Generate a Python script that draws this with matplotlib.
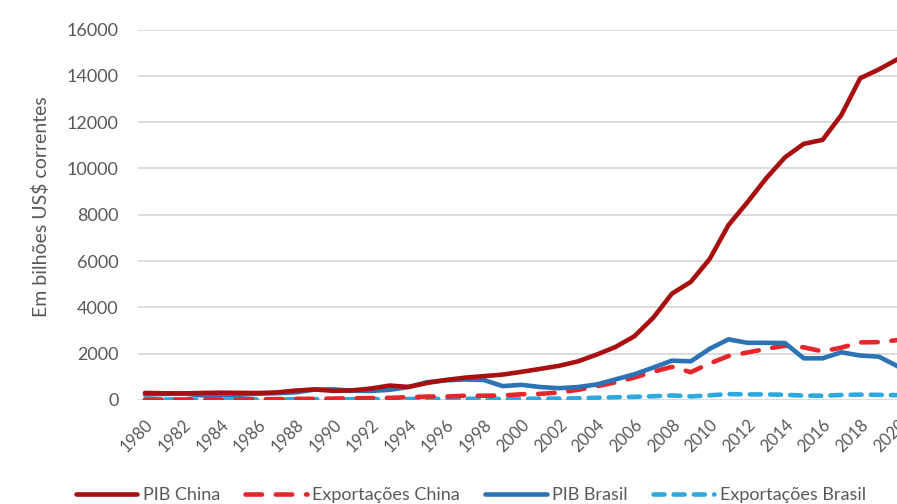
import matplotlib
matplotlib.use("Agg")
import matplotlib.pyplot as plt

plt.rcParams['font.family'] = ['Lato', 'DejaVu Sans']

years = list(range(1980, 2021))

# Billions of current US$
pib_china = [305, 290, 284, 304, 315, 309, 301, 327, 408, 456,
             395, 416, 495, 623, 566, 737, 867, 965, 1032, 1097,
             1215, 1344, 1477, 1667, 1961, 2291, 2752, 3550, 4594, 5102,
             6087, 7552, 8532, 9570, 10476, 11062, 11233, 12310, 13895, 14280,
             14723]
exp_china = [18, 22, 22, 22, 26, 27, 31, 39, 48, 53,
             62, 72, 85, 92, 121, 149, 151, 183, 184, 195,
             249, 266, 326, 438, 593, 762, 969, 1221, 1431, 1202,
             1578, 1898, 2049, 2209, 2342, 2274, 2098, 2263, 2487, 2500,
             2590]
pib_brasil = [235, 260, 280, 200, 210, 225, 270, 295, 330, 450,
              460, 400, 390, 440, 560, 770, 850, 885, 865, 600,
              655, 560, 510, 560, 670, 890, 1110, 1400, 1700, 1670,
              2210, 2620, 2470, 2470, 2460, 1800, 1800, 2060, 1920, 1870,
              1450]
exp_brasil = [20, 23, 20, 22, 27, 26, 22, 26, 34, 34,
              31, 32, 36, 39, 44, 47, 48, 53, 51, 48,
              55, 58, 60, 73, 97, 119, 138, 161, 198, 153,
              202, 256, 243, 242, 225, 191, 185, 218, 232, 221,
              209]

y_ticks = list(range(0, 16001, 2000))
x_ticks = list(range(1980, 2021, 2))

fig = plt.figure(figsize=(8.97, 5.04), dpi=100)
ax = fig.add_axes([138 / 897, 1 - 400 / 504, 1 - 138 / 897 + 0.002, (400 - 29.5) / 504])

lw = 3.3
ax.plot(years, pib_china, color='#A80F0F', lw=lw, solid_capstyle='round',
        solid_joinstyle='round', label='PIB China', zorder=4)
ax.plot(years, exp_china, color='#E5262A', lw=lw, dashes=(3.6, 3.0),
        dash_capstyle='round', label='Exportações China', zorder=3)
ax.plot(years, pib_brasil, color='#2C73B5', lw=lw, solid_capstyle='round',
        solid_joinstyle='round', label='PIB Brasil', zorder=3)
ax.plot(years, exp_brasil, color='#2EA9DF', lw=lw, dashes=(2.4, 2.0),
        dash_capstyle='round', label='Exportações Brasil', zorder=2)

ax.set_ylim(0, 16000)
ax.set_xlim(1979.63, 2020.05)
ax.set_yticks(y_ticks)
ax.set_yticklabels([str(v) for v in y_ticks])
ax.set_xticks(x_ticks)
ax.set_xticklabels([str(v) for v in x_ticks], rotation=45, ha='right',
                   va='top', rotation_mode='anchor')

ax.grid(axis='y', color='#D9D9D9', lw=1.3)
ax.set_axisbelow(True)
for s in ax.spines.values():
    s.set_visible(False)
ax.tick_params(axis='y', length=0, labelsize=13, colors='#595959', pad=14)
ax.tick_params(axis='x', length=0, labelsize=12, colors='#595959', pad=12)

fig.text(41 / 897, 1 - 207 / 504, 'Em bilhões US$ correntes', rotation=90,
         ha='center', va='center', fontsize=14, color='#595959')

fig.legend(loc='center', bbox_to_anchor=(0.525, 1 - 495 / 504), ncol=4,
           frameon=False, fontsize=13, handlelength=3.4, handletextpad=0.3,
           columnspacing=1.4, labelcolor='#595959')

fig.savefig('out.png', dpi=100, facecolor='white')
